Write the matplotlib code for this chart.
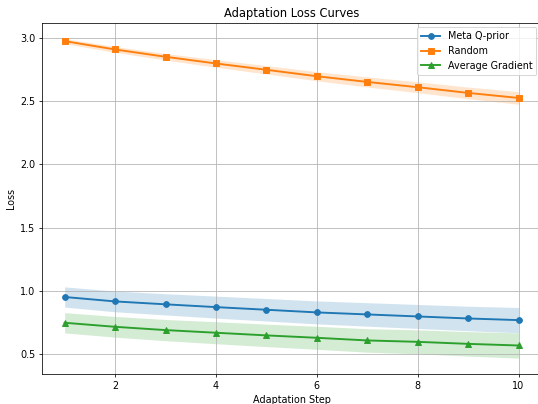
import matplotlib
matplotlib.use("Agg")
import matplotlib.pyplot as plt
import numpy as np

steps = np.arange(1, 11)

meta_mean = [0.950, 0.915, 0.892, 0.870, 0.849, 0.828, 0.812, 0.796, 0.780, 0.767]
meta_std = [0.080, 0.082, 0.084, 0.087, 0.089, 0.091, 0.093, 0.095, 0.097, 0.100]

random_mean = [2.976, 2.910, 2.852, 2.799, 2.749, 2.698, 2.653, 2.611, 2.566, 2.526]
random_std = [0.020, 0.023, 0.026, 0.030, 0.033, 0.036, 0.040, 0.043, 0.046, 0.050]

avg_mean = [0.746, 0.714, 0.688, 0.667, 0.646, 0.627, 0.606, 0.595, 0.579, 0.566]
avg_std = [0.080, 0.082, 0.084, 0.087, 0.089, 0.091, 0.093, 0.095, 0.097, 0.100]

series = [
    ("Meta Q-prior", meta_mean, meta_std, "o", "tab:blue"),
    ("Random", random_mean, random_std, "s", "tab:orange"),
    ("Average Gradient", avg_mean, avg_std, "^", "tab:green"),
]

dpi = 69
fig, ax = plt.subplots(figsize=(538 / dpi, 404 / dpi), dpi=dpi)

for name, m, s, mk, c in series:
    m = np.array(m)
    s = np.array(s)
    ax.plot(steps, m, marker=mk, color=c, linewidth=2, label=name)
    ax.fill_between(steps, m - s, m + s, color=c, alpha=0.2, linewidth=0)

ax.set_xlabel("Adaptation Step")
ax.set_ylabel("Loss")
ax.set_title("Adaptation Loss Curves")
ax.legend()
ax.grid(True)

# the right edge of the axes runs just past the image border in the original
fig.subplots_adjust(left=0.078, right=1.006, top=0.944, bottom=0.074)
fig.savefig("out.png")
